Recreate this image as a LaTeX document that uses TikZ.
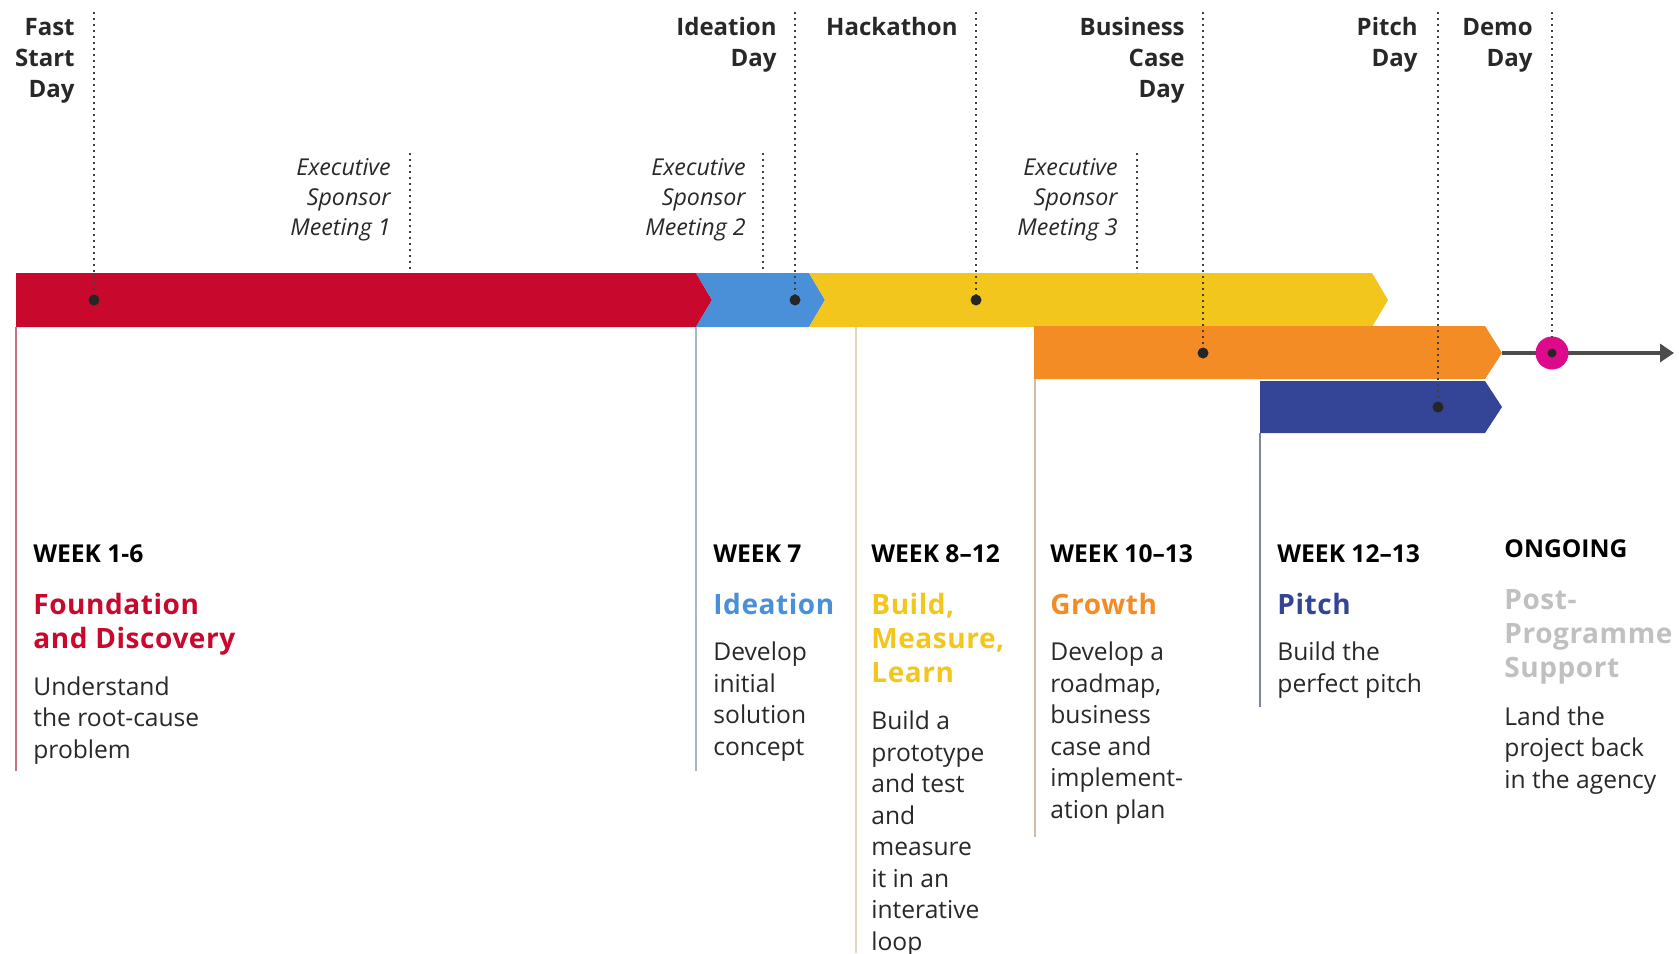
\documentclass[tikz,border=0pt]{standalone}
\usepackage{fontspec}
\setmainfont{Open Sans}
\usepackage{tikz}
\usetikzlibrary{arrows.meta,positioning}
\definecolor{phred}{RGB}{200,8,45}
\definecolor{phblue}{RGB}{74,144,217}
\definecolor{phyellow}{RGB}{242,198,28}
\definecolor{phorange}{RGB}{244,140,38}
\definecolor{phnavy}{RGB}{52,68,150}
\definecolor{phpink}{RGB}{222,10,140}
\definecolor{phgray}{RGB}{192,192,192}
\definecolor{ink}{RGB}{40,40,40}
\tikzset{
	event/.style={font=\bfseries\fontsize{12}{15.5}\selectfont,align=right,anchor=base east,inner sep=0pt,text=ink},
	meeting/.style={font=\itshape\fontsize{11.6}{15}\selectfont,align=right,anchor=base east,inner sep=0pt,text=ink},
	milestone/.style={circle,fill=black!85,inner sep=0pt,minimum size=5.5pt},
	guide/.style={line width=0.9pt,dash pattern=on 0.9pt off 2.1pt,draw=black!75},
	week/.style={font=\bfseries\fontsize{12.3}{14}\selectfont,anchor=base west,inner sep=0pt,text=black},
	phase/.style={font=\bfseries\fontsize{14}{17}\selectfont\addfontfeature{LetterSpace=2},align=left,anchor=base west,inner sep=0pt},
	blurb/.style={font=\fontsize{12.3}{15.75}\selectfont,align=left,anchor=base west,inner sep=0pt,text=ink},
	rail/.style={line width=0.9pt}
}
\begin{document}
\begin{tikzpicture}[x=0.5pt,y=-0.5pt]
	\useasboundingbox (0,0) rectangle (1679,953);
	\fill[phred] (16,273) -- (696,273) -- (712,300) -- (696,327) -- (16,327) -- cycle;
	\fill[phblue] (696,273) -- (809,273) -- (825,300) -- (809,327) -- (696,327) -- (712,300) -- cycle;
	\fill[phyellow] (809,273) -- (1372,273) -- (1388,300) -- (1372,327) -- (809,327) -- (825,300) -- cycle;
	\fill[phorange] (1034,326) -- (1485,326) -- (1502,353) -- (1485,379) -- (1034,379) -- cycle;
	\fill[phnavy] (1260,381) -- (1485,381) -- (1502,407) -- (1485,433) -- (1260,433) -- cycle;
	\draw[rail,phred!60!gray!70] (16,327) -- (16,771);
	\draw[rail,phblue!45!gray!60] (696,327) -- (696,771);
	\draw[rail,phyellow!50!gray!40] (856,327) -- (856,953);
	\draw[rail,phorange!40!gray!55] (1035,379) -- (1035,837);
	\draw[rail,phnavy!40!gray!80] (1260,433) -- (1260,707);
	\coordinate (ostart) at (1502,353);
	\coordinate (oend) at (1674,353);
	\draw[line width=1.6pt,black!70,-{Triangle[length=7pt,width=9pt]}] (ostart) -- (oend);
	\node[circle,fill=phpink,inner sep=0pt,minimum size=16.5pt] (demo) at (1552,353) {};
	\node[event] (fast) at (75,97) {Fast\\Start\\Day};
	\node[event] (idea) at (777,66) {Ideation\\Day};
	\node[event] (hack) at (958,35) {Hackathon};
	\node[event] (case) at (1185,97) {Business\\Case\\Day};
	\node[event] (pitch) at (1418,66) {Pitch\\Day};
	\node[event] (demoday) at (1533,66) {Demo\\Day};
	\node[meeting] (esm1) at (391,235) {Executive\\Sponsor\\Meeting 1};
	\node[meeting] (esm2) at (746,235) {Executive\\Sponsor\\Meeting 2};
	\node[meeting] (esm3) at (1118,235) {Executive\\Sponsor\\Meeting 3};
	\coordinate (fastT) at (94,12);
	\coordinate (ideaT) at (795,12);
	\coordinate (hackT) at (976,12);
	\coordinate (caseT) at (1203,12);
	\coordinate (pitchT) at (1438,12);
	\coordinate (demoT) at (1552,12);
	\coordinate (esm1T) at (410,153);
	\coordinate (esm1B) at (410,273);
	\coordinate (esm2T) at (763,153);
	\coordinate (esm2B) at (763,273);
	\coordinate (esm3T) at (1137,153);
	\coordinate (esm3B) at (1137,273);
	\node[milestone] (fastdot) at (94,300) {};
	\node[milestone] (ideadot) at (795,300) {};
	\node[milestone] (hackdot) at (976,300) {};
	\node[milestone] (casedot) at (1203,353) {};
	\node[milestone] (pitchdot) at (1438,407) {};
	\node[milestone,minimum size=4.5pt] (demodot) at (demo) {};
	\draw[guide] (fastT) -- (fastdot);
	\draw[guide] (ideaT) -- (ideadot);
	\draw[guide] (hackT) -- (hackdot);
	\draw[guide] (caseT) -- (casedot);
	\draw[guide] (pitchT) -- (pitchdot);
	\draw[guide] (demoT) -- (demo);
	\draw[guide] (esm1T) -- (esm1B);
	\draw[guide] (esm2T) -- (esm2B);
	\draw[guide] (esm3T) -- (esm3B);
	\node[week] (w1) at (33,562) {WEEK 1-6};
	\node[phase,text=phred] (p1) at (33,648) {Foundation\\and Discovery};
	\node[blurb] (b1) at (33,758) {Understand\\the root-cause\\problem};
	\node[week] (w2) at (713,562) {WEEK 7};
	\node[phase,text=phblue] (p2) at (713,614) {Ideation};
	\node[blurb] (b2) at (713,755) {Develop\\initial\\solution\\concept};
	\node[week] (w3) at (871,562) {WEEK 8–12};
	\node[phase,text=phyellow] (p3) at (871,682) {Build,\\Measure,\\Learn};
	\node[blurb] (b3) at (871,950) {Build a\\prototype\\and test\\and\\measure\\it in an\\interative\\loop};
	\node[week] (w4) at (1050,562) {WEEK 10–13};
	\node[phase,text=phorange] (p4) at (1050,614) {Growth};
	\node[blurb] (b4) at (1050,818) {Develop a\\roadmap,\\business\\case and\\implement-\\ation plan};
	\node[week] (w5) at (1277,562) {WEEK 12–13};
	\node[phase,text=phnavy] (p5) at (1277,614) {Pitch};
	\node[blurb] (b5) at (1277,692) {Build the\\perfect pitch};
	\node[week] (w6) at (1504,557) {ONGOING};
	\node[phase,text=phgray] (p6) at (1504,677) {Post-\\Programme\\Support};
	\node[blurb] (b6) at (1504,788) {Land the\\project back\\in the agency};
\end{tikzpicture}
\end{document}
